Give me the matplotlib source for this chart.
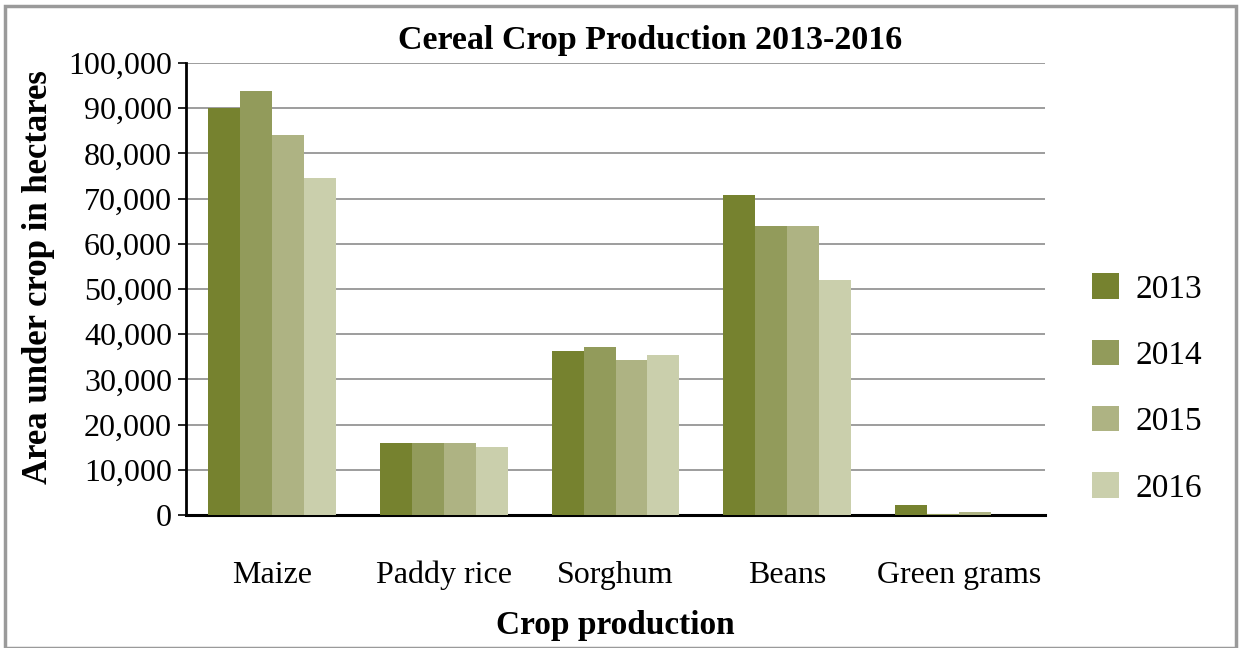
import matplotlib
matplotlib.use("Agg")
import matplotlib.pyplot as plt
import numpy as np
from matplotlib.patches import Rectangle
from matplotlib.ticker import FuncFormatter

categories = ["Maize", "Paddy rice", "Sorghum", "Beans", "Green grams"]
years = ["2013", "2014", "2015", "2016"]
v2013 = [90000, 16000, 36300, 70800, 2300]
v2014 = [93700, 16000, 37200, 64000, 200]
v2015 = [84000, 16000, 34300, 64000, 700]
v2016 = [74500, 15000, 35400, 52000, 0]
series = [v2013, v2014, v2015, v2016]
colors = ["#76822f", "#929b5b", "#aeb383", "#cacfac"]

plt.rcParams["font.family"] = ["Liberation Serif", "DejaVu Serif"]

fig = plt.figure(figsize=(12.41, 6.48), dpi=100)
ax = fig.add_axes([186/1241, 1-515/648, 859/1241, 452/648])

x = np.arange(len(categories))
w = 0.186
for i, (vals, c, yr) in enumerate(zip(series, colors, years)):
    ax.bar(x + (i - 1.5) * w, vals, width=w, color=c, label=yr, zorder=3,
           edgecolor="none")

ax.set_xlim(-0.5, 4.5)
ax.set_ylim(0, 100000)
ax.set_yticks(np.arange(0, 100001, 10000))
ax.yaxis.set_major_formatter(FuncFormatter(lambda v, p: f"{int(v):,}"))
ax.grid(axis="y", color="#8c8c8c", linewidth=1.2, zorder=0)
ax.set_xticks(x)
ax.set_xticklabels(categories)
ax.tick_params(axis="x", length=0, pad=33, labelsize=23)
ax.tick_params(axis="y", length=6, width=1.2, direction="out", labelsize=23, pad=4)
for s in ["top", "right"]:
    ax.spines[s].set_visible(False)
ax.spines["left"].set_linewidth(2)
ax.spines["bottom"].set_linewidth(2.2)

ax.set_xlabel("Crop production", fontsize=24, fontweight="bold", labelpad=14)
ax.set_ylabel("Area under crop in hectares", fontsize=25, fontweight="bold")
ax.yaxis.set_label_coords(-0.152, 0.527)
fig.text(650/1241, 1-40/648, "Cereal Crop Production 2013-2016", ha="center", va="center",
         fontsize=24.5, fontweight="bold")

leg = ax.legend(loc="center left", bbox_to_anchor=(1.02, 0.28), frameon=False,
                fontsize=24, handlelength=0.8, handleheight=0.8, labelspacing=1.05,
                handletextpad=0.5)

fig.patches.append(Rectangle((5/1241, 0), 1 - 10/1241, 1 - 6/648, transform=fig.transFigure,
                             fill=False, edgecolor="#9a9a9a", linewidth=2.5))

fig.savefig("out.png", dpi=100)
